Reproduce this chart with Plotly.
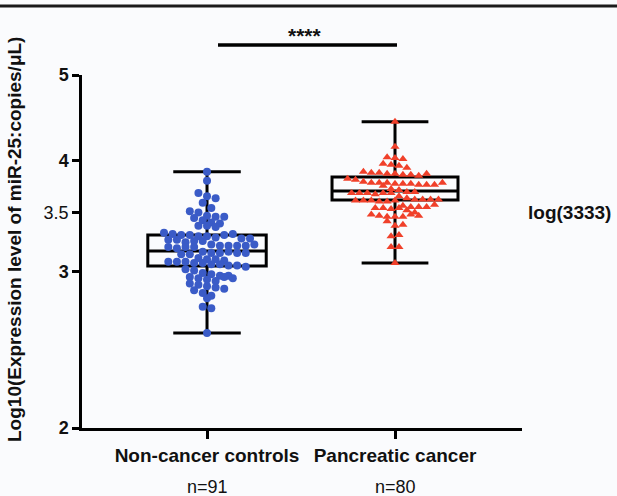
import math
import plotly.graph_objects as go

# ---------------- data ----------------
categories = ["Non-cancer controls", "Pancreatic cancer"]
n_labels = ["n=91", "n=80"]

non_cancer = [
    3.89, 3.80, 3.68, 3.65, 3.63, 3.59, 3.54, 3.51, 3.50,
    3.47, 3.46, 3.46, 3.45, 3.43, 3.41, 3.40,
    3.38, 3.38, 3.37,
    3.32, 3.31, 3.30, 3.30, 3.29, 3.29, 3.28, 3.30, 3.31,
    3.27, 3.26, 3.27, 3.26,
    3.24, 3.25, 3.25,
    3.22, 3.21, 3.21, 3.20, 3.21, 3.19, 3.20, 3.21, 3.22, 3.20,
    3.16, 3.15, 3.15, 3.14, 3.16, 3.15, 3.14, 3.15,
    3.11, 3.10, 3.10, 3.09, 3.08, 3.08, 3.08, 3.07, 3.07, 3.06, 3.06, 3.05, 3.05, 3.04,
    3.02, 3.01,
    2.99, 2.98, 2.97, 2.96, 2.95, 2.94, 2.93, 2.97, 2.96, 2.95,
    2.91, 2.90, 2.89, 2.88, 2.87, 2.86,
    2.84, 2.82, 2.80,
    2.74, 2.73,
    2.56,
]

pancreatic = [
    4.43, 4.15, 4.04, 4.03, 4.02, 3.97, 3.96, 3.95, 3.93,
    3.89, 3.88, 3.88, 3.87, 3.87, 3.86, 3.86, 3.85, 3.87,
    3.82, 3.81,
    3.79, 3.78, 3.78, 3.78, 3.77, 3.77, 3.77, 3.76, 3.76, 3.76, 3.75, 3.78,
    3.72, 3.71,
    3.69, 3.68, 3.68, 3.68, 3.67, 3.68, 3.69, 3.68, 3.65,
    3.63, 3.62, 3.62, 3.62, 3.61, 3.61, 3.61, 3.60, 3.60, 3.62, 3.61,
    3.56, 3.55, 3.55, 3.54, 3.54, 3.53, 3.55, 3.54, 3.57, 3.52,
    3.50, 3.48, 3.47, 3.46, 3.46, 3.46, 3.48, 3.47,
    3.42, 3.38, 3.39, 3.29, 3.30, 3.20, 3.20, 3.07,
]

# box statistics (min / Q1 / median / Q3 / max)
box_min = [2.56, 3.07]
box_q1 = [3.045, 3.614]
box_median = [3.167, 3.70]
box_q3 = [3.301, 3.837]
box_max = [3.89, 4.43]

cutoff = 3.5
cutoff_label = "log(3333)"

# ---------------- layout helpers ----------------
W, H = 617, 496
ML, MR, MT, MB = 82, 95, 75, 68
plot_w = W - ML - MR
plot_h = H - MT - MB
yr = [math.log10(2), math.log10(5)]
xr = [0.335, 2.6755]
px_x = plot_w / (xr[1] - xr[0])
px_y = plot_h / (yr[1] - yr[0])


def swarm_rows(vals, s, span):
    """Row-binned beeswarm (GraphPad style): x offsets in axis units."""
    ys = [px_y * math.log10(v) for v in vals]
    order = sorted(range(len(vals)), key=lambda i: -ys[i])
    rows, cur, start = [], [order[0]], ys[order[0]]
    for i in order[1:]:
        if start - ys[i] <= span:
            cur.append(i)
        else:
            rows.append(cur)
            cur, start = [i], ys[i]
    rows.append(cur)
    xs = [0.0] * len(vals)
    prev_y, prev_par, prev_shift, flip = None, None, 0.0, 1
    for row in rows:
        n = len(row)
        ym = sum(ys[i] for i in row) / n
        shift = 0.0
        if prev_y is not None and prev_y - ym < s and n % 2 == prev_par and prev_shift == 0:
            shift = flip * s / 2
            flip = -flip
        members = sorted(row)
        for k, i in enumerate(members):
            xs[i] = (k - (n - 1) / 2) * s + shift
        prev_y, prev_par, prev_shift = ym, n % 2, shift
    return [x / px_x for x in xs]


FONT = "Liberation Sans, Arial, Helvetica, sans-serif"
TXT = "#111111"
fig = go.Figure()

widths = [0.63, 0.67]
whisk = [0.57, 0.53]
for k in range(2):
    fig.add_trace(go.Box(
        x=[k + 1], q1=[box_q1[k]], median=[box_median[k]], q3=[box_q3[k]],
        lowerfence=[box_min[k]], upperfence=[box_max[k]],
        width=widths[k], whiskerwidth=whisk[k], boxpoints=False,
        line=dict(color="black", width=3), fillcolor="rgba(0,0,0,0)",
        showlegend=False, hoverinfo="skip",
    ))

off_nc = swarm_rows(non_cancer, 8.6, 6.5)
off_pc = swarm_rows(pancreatic, 7.9, 6.5)

fig.add_trace(go.Scatter(
    x=[1 + o for o in off_nc], y=non_cancer, mode="markers",
    marker=dict(symbol="circle", size=8, color="#3a5bc7", line=dict(width=0)),
    showlegend=False,
))
fig.add_trace(go.Scatter(
    x=[2 + o for o in off_pc], y=pancreatic, mode="markers",
    marker=dict(symbol="triangle-up", size=8, color="#f0402a", line=dict(width=0)),
    showlegend=False,
))

fig.update_layout(
    width=W, height=H,
    margin=dict(l=ML, r=MR, t=MT, b=MB, pad=0),
    paper_bgcolor="#fafbfd", plot_bgcolor="#fafbfd",
    font=dict(family=FONT, size=18, color=TXT),
    xaxis=dict(
        range=xr, tickvals=[1, 2], ticktext=["<b>%s</b>" % c for c in categories],
        ticks="outside", ticklen=8, tickwidth=2.5, tickcolor="black",
        showline=True, linewidth=2.5, linecolor="black",
        showgrid=False, zeroline=False, tickfont=dict(size=19, color=TXT),
    ),
    yaxis=dict(
        type="log", range=yr, tickvals=[2, 3, 3.5, 4, 5],
        ticktext=["<b>2</b>", "<b>3</b>", "3.5", "<b>4</b>", "<b>5</b>"],
        ticks="outside", ticklen=7, tickwidth=2.5, tickcolor="black",
        showline=True, linewidth=2.5, linecolor="black",
        showgrid=False, zeroline=False, tickfont=dict(size=18, color=TXT),
    ),
)

# dotted cutoff line
fig.add_shape(type="line", xref="paper", x0=0.005, x1=1, yref="y",
              y0=math.log10(cutoff), y1=math.log10(cutoff),
              line=dict(color="black", width=2, dash="dot"), layer="below")
fig.add_annotation(xref="paper", x=1, xanchor="left", xshift=4, yref="y",
                   y=math.log10(cutoff), yanchor="middle", showarrow=False,
                   text="<b>%s</b>" % cutoff_label, font=dict(size=19, color=TXT))

# top border line
top_y = (H - MB - 6) / plot_h
fig.add_shape(type="line", xref="paper", x0=-0.2, x1=1.22, yref="paper",
              y0=top_y, y1=top_y, line=dict(color="#1a1a1a", width=3))

# significance bar
sig_y = (H - MB - 45) / plot_h
fig.add_shape(type="line", xref="x", x0=1.0585, x1=2.0106, yref="paper",
              y0=sig_y, y1=sig_y, line=dict(color="black", width=3.5))
fig.add_annotation(xref="x", x=1.52, yref="paper", y=sig_y, yanchor="bottom",
                   yshift=-4, showarrow=False, text="<b>****</b>",
                   font=dict(size=21, color=TXT))

# y-axis title
fig.add_annotation(xref="paper", x=(14 - ML) / plot_w, yref="paper",
                   y=(H - MB - 240) / plot_h, textangle=-90, showarrow=False,
                   xanchor="center", yanchor="middle",
                   text="<b>Log10(Expression level of miR-25:copies/μL)</b>",
                   font=dict(size=19, color=TXT))

# n labels
for k, t in enumerate(n_labels):
    fig.add_annotation(xref="x", x=k + 1, yref="paper", y=(H - MB - 487) / plot_h,
                       yanchor="middle", showarrow=False, text=t,
                       font=dict(size=18, color=TXT))

fig.write_html("out.html", config={"displayModeBar": False},
               post_script="document.body.style.margin='0';document.body.style.overflow='hidden';")
